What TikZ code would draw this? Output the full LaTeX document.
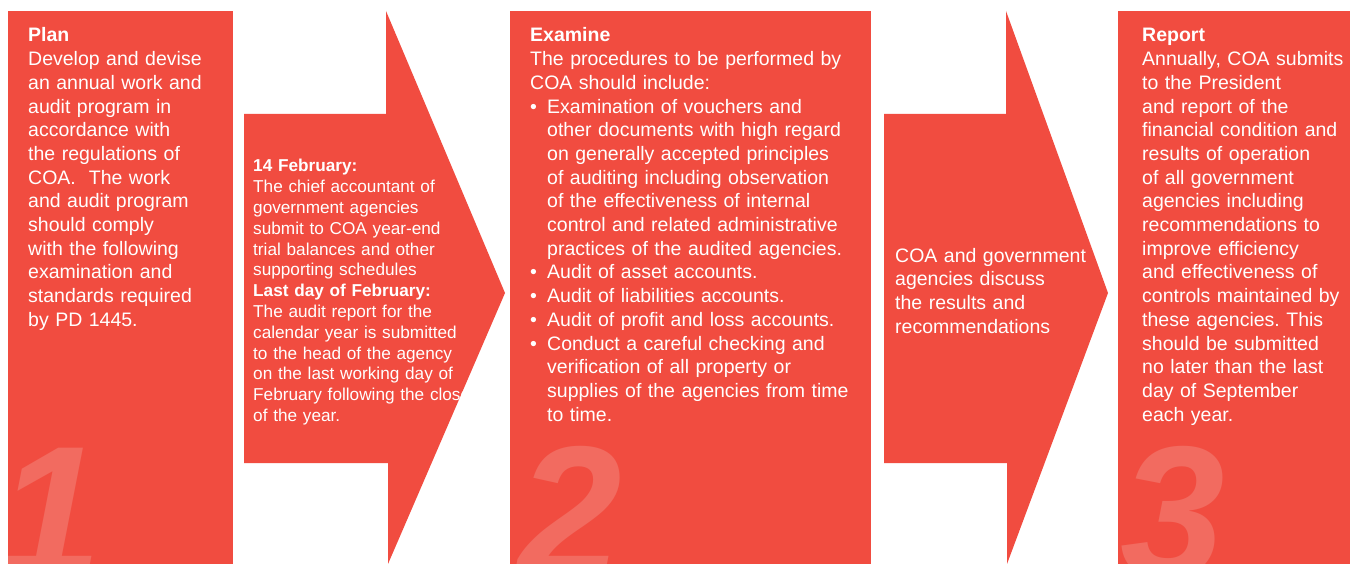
\documentclass[tikz,border=0pt]{standalone}
\usepackage{fontspec}
\setmainfont{Liberation Sans}
\frenchspacing
\definecolor{boxred}{HTML}{F14C40}
\definecolor{numred}{HTML}{F26B60}
\newcommand\nl{\hfil\break}
\newcommand\bitem[1]{\par\hangindent=17pt\hangafter=1\noindent\makebox[17pt][l]{\textbullet}#1\par}
\tikzset{
  panel/.style={fill=boxred},
  maintext/.style={anchor=base west, inner sep=0pt, text=white, align=left,
    font=\fontsize{19.5}{23.7}\selectfont},
  smalltext/.style={anchor=base west, inner sep=0pt, text=white, align=left,
    font=\fontsize{17.2}{20.8}\selectfont},
  bignum/.style={anchor=base west, inner sep=0pt, text=numred,
    font=\fontsize{188}{188}\selectfont\bfseries\itshape},
}
\begin{document}
\begin{tikzpicture}[x=1pt,y=-1pt]
\useasboundingbox (0,0) rectangle (1350,564);
\fill[white] (0,0) rectangle (1350,564);
% panels
\fill[panel] (8,11) rectangle (233,564);
\fill[panel] (510,11) rectangle (871,564);
\fill[panel] (1118,11) rectangle (1350,564);
% arrows
\fill[panel] (244,114) -- (386,114) -- (386,11) -- (505,293) -- (388,564) -- (388,463) -- (244,463) -- cycle;
\fill[panel] (884,114) -- (1006,114) -- (1006,11) -- (1108,293) -- (1007,564) -- (1007,463) -- (884,463) -- cycle;
% big numbers
\begin{scope}
\clip (8,11) rectangle (233,564);
\node[bignum] (n1) at (-3,577) {1};
\end{scope}
\begin{scope}
\clip (510,11) rectangle (871,564);
\node[bignum] (n2) at (517,577) {2};
\end{scope}
\begin{scope}
\clip (1118,11) rectangle (1350,564);
\node[bignum] (n3) at (1120,577) {3};
\end{scope}
% texts
\node[maintext, text width=215pt] (plan) at (28,42) {{\bfseries Plan}\\
Develop and devise\\
an annual work and\\
audit program in\\
accordance with\\
the regulations of\\
COA.~ The work\\
and audit program\\
should comply\\
with the following\\
examination and\\
standards required\\
by PD 1445.};
\begin{scope}
\clip (244,114) -- (386,114) -- (386,11) -- (505,293) -- (388,564) -- (388,463) -- (244,463) -- cycle;
\node[smalltext, text width=250pt] (feb) at (253,172) {{\bfseries 14 February:}\\
The chief accountant of\\
government agencies\\
submit to COA year-end\\
trial balances and other\\
supporting schedules\\
{\bfseries Last day of February:}\\
The audit report for the\\
calendar year is submitted\\
to the head of the agency\\
on the last working day of\\
February following the close\\
of the year.};
\end{scope}
\node[maintext, text width=335pt] (exam) at (530,42) {{\bfseries Examine}\nl
The procedures to be performed by\nl
COA should include:
\bitem{Examination of vouchers and\nl
other documents with high regard\nl
on generally accepted principles\nl
of auditing including observation\nl
of the effectiveness of internal\nl
control and related administrative\nl
practices of the audited agencies.}
\bitem{Audit of asset accounts.}
\bitem{Audit of liabilities accounts.}
\bitem{Audit of profit and loss accounts.}
\bitem{Conduct a careful checking and\nl
verification of all property or\nl
supplies of the agencies from time\nl
to time.}};
\node[maintext, text width=205pt] (disc) at (895,262) {COA and government\\
agencies discuss\\
the results and\\
recommendations};
\node[maintext, text width=206pt] (rep) at (1142,42) {{\bfseries Report}\\
Annually, COA submits\\
to the President\\
and report of the\\
financial condition and\\
results of operation\\
of all government\\
agencies including\\
recommendations to\\
improve efficiency\\
and effectiveness of\\
controls maintained by\\
these agencies. This\\
should be submitted\\
no later than the last\\
day of September\\
each year.};
\end{tikzpicture}
\end{document}
